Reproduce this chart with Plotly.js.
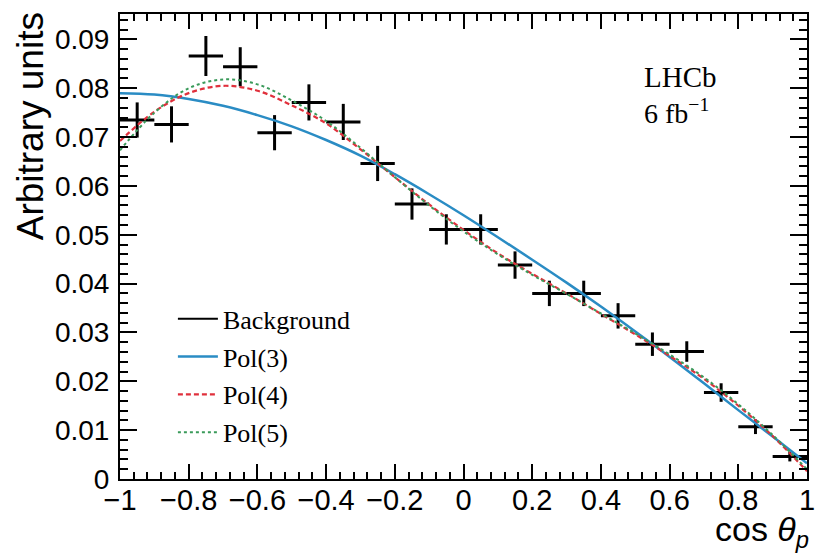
<!DOCTYPE html>
<html>
<head>
<meta charset="utf-8">
<script src="https://cdn.plot.ly/plotly-3.0.1.min.js"></script>
<style>html,body{margin:0;padding:0;background:#fff;}</style>
</head>
<body>
<div id="chart" style="width:815px;height:554px;"></div>
<script>
// Data points (bin centres, values, vertical errors)
var binCentres = [-0.95,-0.85,-0.75,-0.65,-0.55,-0.45,-0.35,-0.25,-0.15,-0.05,0.05,0.15,0.25,0.35,0.45,0.55,0.65,0.75,0.85,0.95];
var bgValues   = [0.0735,0.0726,0.0866,0.0844,0.0709,0.0771,0.0731,0.0646,0.0563,0.0511,0.0511,0.0438,0.0380,0.0380,0.0334,0.0276,0.0261,0.0177,0.0107,0.0046];
var bgErrors   = [0.0036,0.0037,0.0041,0.0040,0.0036,0.0037,0.0037,0.0036,0.0032,0.0031,0.0031,0.0028,0.0026,0.0026,0.0026,0.0024,0.0021,0.0019,0.0015,0.0010];
var binHalfWidth = 0.05;

// Fit curves at x = -1, -0.9, ..., 1
var curveX = [-1.0,-0.9,-0.8,-0.7,-0.6,-0.5,-0.4,-0.3,-0.2,-0.1,0.0,0.1,0.2,0.3,0.4,0.5,0.6,0.7,0.8,0.9,1.0];
var pol3 = [0.0790,0.0787,0.0778,0.0764,0.0745,0.0722,0.0694,0.0662,0.0624,0.0583,0.0540,0.0495,0.0449,0.0402,0.0353,0.0302,0.0250,0.0196,0.0141,0.0087,0.0032];
var pol4 = [0.0692,0.0752,0.0790,0.0805,0.0795,0.0765,0.0728,0.0675,0.0618,0.0562,0.0510,0.0462,0.0420,0.0380,0.0338,0.0296,0.0252,0.0205,0.0150,0.0088,0.0016];
var pol5 = [0.0673,0.0750,0.0800,0.0818,0.0808,0.0775,0.0733,0.0678,0.0618,0.0560,0.0507,0.0460,0.0418,0.0379,0.0339,0.0298,0.0255,0.0208,0.0153,0.0090,0.0020];

var legendNames = ['Background','Pol(3)','Pol(4)','Pol(5)'];
var xTickVals = [-1,-0.8,-0.6,-0.4,-0.2,0,0.2,0.4,0.6,0.8,1];
var yTickVals = [0,0.01,0.02,0.03,0.04,0.05,0.06,0.07,0.08,0.09];

var serif = 'Liberation Serif, Times New Roman, serif';
var sans = 'Liberation Sans, Arial, Helvetica, sans-serif';

var traces = [
  {
    x: binCentres, y: bgValues, type: 'scatter', mode: 'markers',
    marker: {size: 1, color: 'rgba(0,0,0,0)'},
    error_x: {type: 'constant', value: binHalfWidth, color: '#000', thickness: 3, width: 0},
    error_y: {type: 'data', array: bgErrors, color: '#000', thickness: 3, width: 0},
    showlegend: false, hoverinfo: 'skip'
  },
  {
    x: [null], y: [null], type: 'scatter', mode: 'lines', name: legendNames[0],
    line: {color: '#000', width: 2}, legendgroup: 'g0'
  },
  {
    x: curveX, y: pol3, type: 'scatter', mode: 'lines', name: legendNames[1],
    line: {color: '#2a8cc4', width: 2.5, shape: 'spline'}, legendgroup: 'g1'
  },
  {
    x: curveX, y: pol4, type: 'scatter', mode: 'lines', name: legendNames[2],
    line: {color: '#e0303c', width: 2.2, dash: '5px,3px', shape: 'spline'}, legendgroup: 'g2'
  },
  {
    x: curveX, y: pol5, type: 'scatter', mode: 'lines', name: legendNames[3],
    line: {color: '#3a9a5a', width: 2, dash: 'dot', shape: 'spline'}, legendgroup: 'g3'
  }
];

var layout = {
  width: 815, height: 554,
  margin: {l: 120, r: 8, t: 14, b: 75, pad: 0},
  paper_bgcolor: '#fff', plot_bgcolor: '#fff',
  showlegend: true,
  legend: {
    x: 0.077, y: 0.395, xanchor: 'left', yanchor: 'top',
    bgcolor: 'rgba(255,255,255,0)', borderwidth: 0,
    font: {family: serif, size: 26, color: '#000'},
    traceorder: 'grouped', tracegroupgap: 1, itemwidth: 40
  },
  xaxis: {
    range: [-1, 1], tickvals: xTickVals, ticks: 'inside', ticklen: 15, tickwidth: 2, tickcolor: '#000',
    showline: true, linecolor: '#000', linewidth: 2, mirror: 'ticks', showgrid: false, zeroline: false,
    tickfont: {family: sans, size: 29, color: '#000'}, ticklabeloverflow: 'allow',
    minor: {dtick: 0.04, ticks: 'inside', ticklen: 7, tickwidth: 2, tickcolor: '#000', showgrid: false},
    ticklabelstandoff: -6
  },
  yaxis: {
    range: [0, 0.0952], tickvals: yTickVals, ticks: 'inside', ticklen: 17, tickwidth: 2, tickcolor: '#000',
    showline: true, linecolor: '#000', linewidth: 2, mirror: 'ticks', showgrid: false, zeroline: false,
    tickfont: {family: sans, size: 28, color: '#000'},
    minor: {dtick: 0.002, ticks: 'inside', ticklen: 8, tickwidth: 2, tickcolor: '#000', showgrid: false},
    ticklabelstandoff: 3
  },
  annotations: [
    {text: 'Arbitrary units', xref: 'paper', yref: 'paper', x: -0.131, y: 1.008,
     xanchor: 'center', yanchor: 'top', textangle: -90, showarrow: false,
     font: {family: sans, size: 37, color: '#000'}},
    {text: 'cos <i>θ</i><sub><i>p</i></sub>', xref: 'paper', yref: 'paper', x: 1.006, y: -0.113,
     xanchor: 'right', yanchor: 'middle', showarrow: false,
     font: {family: sans, size: 34, color: '#000'}},
    {text: 'LHCb', xref: 'paper', yref: 'paper', x: 0.76, y: 0.8645,
     xanchor: 'left', yanchor: 'middle', align: 'left', showarrow: false,
     font: {family: serif, size: 29, color: '#000'}},
    {text: '6 fb<sup>−1</sup>', xref: 'paper', yref: 'paper', x: 0.76, y: 0.79,
     xanchor: 'left', yanchor: 'middle', align: 'left', showarrow: false,
     font: {family: serif, size: 28, color: '#000'}}
  ]
};

Plotly.newPlot('chart', traces, layout, {displayModeBar: false, staticPlot: true});
</script>
</body>
</html>
